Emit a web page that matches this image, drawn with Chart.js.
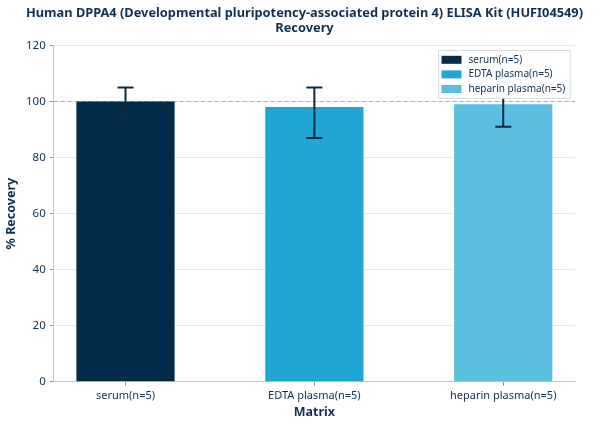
<!DOCTYPE html>
<html>
<head>
<meta charset="utf-8">
<script src="https://cdn.jsdelivr.net/npm/chart.js@4"></script>
<style>
  body { margin: 0; background: #fff; }
  #wrap { width: 608px; height: 425px; }
</style>
</head>
<body>
<div id="wrap"><canvas id="myChart"></canvas></div>
<script>
const matrices = ['serum(n=5)', 'EDTA plasma(n=5)', 'heparin plasma(n=5)'];
const recovery = [100, 98, 99];
const errUpper = [105, 105, 107];
const errLower = [95, 87, 91];
const yTicks = [0, 20, 40, 60, 80, 100, 120];
const barColors = ['#022b4a', '#1fa6d4', '#5bc0e0'];

const navy = '#12304f';
const ctx = document.getElementById('myChart');

const extras = {
  id: 'extras',
  beforeDatasetsDraw(chart) {
    const { ctx, chartArea, scales } = chart;
    const y = Math.round(scales.y.getPixelForValue(100)) + 0.5;
    ctx.save();
    ctx.strokeStyle = '#7dbfe0';
    ctx.lineWidth = 1;
    ctx.setLineDash([4, 3]);
    ctx.beginPath();
    ctx.moveTo(chartArea.left, y);
    ctx.lineTo(chartArea.right, y);
    ctx.stroke();
    ctx.restore();
  },
  afterDatasetsDraw(chart) {
    const { ctx, scales, chartArea } = chart;
    ctx.save();
    ctx.strokeStyle = '#0f2a47';
    ctx.lineWidth = 2;
    matrices.forEach((m, i) => {
      const x = scales.x.getPixelForValue(i);
      const yt = scales.y.getPixelForValue(errUpper[i]);
      const yb = scales.y.getPixelForValue(errLower[i]);
      ctx.beginPath();
      ctx.moveTo(x, yt); ctx.lineTo(x, yb);
      ctx.moveTo(x - 8, yt); ctx.lineTo(x + 8, yt);
      ctx.moveTo(x - 8, yb); ctx.lineTo(x + 8, yb);
      ctx.stroke();
    });

    // legend drawn by hand, top right inside the plot
    ctx.font = '10px "Noto Sans"';
    const tw = Math.max(...matrices.map(t => ctx.measureText(t).width));
    const w = 3 + 20 + 7 + tw + 5;
    const rowH = 14.6;
    const h = matrices.length * rowH + 4;
    const x0 = Math.round(chartArea.right - 5 - w) + 0.5;
    const y0 = Math.round(chartArea.top + 5) + 0.5;
    ctx.fillStyle = 'rgba(255,255,255,0.96)';
    ctx.strokeStyle = '#d5dbe2';
    ctx.lineWidth = 1;
    ctx.beginPath();
    ctx.rect(x0, y0, w, h);
    ctx.fill();
    ctx.stroke();
    ctx.textBaseline = 'middle';
    matrices.forEach((t, i) => {
      const cy = y0 + 2 + rowH * (i + 0.5);
      ctx.fillStyle = barColors[i];
      ctx.fillRect(x0 + 3, cy - 4, 20, 8);
      ctx.fillStyle = navy;
      ctx.fillText(t, x0 + 30, cy);
    });
    ctx.restore();
  }
};

new Chart(ctx, {
  type: 'bar',
  data: {
    datasets: [{
      label: 'Recovery',
      data: recovery.map((v, i) => ({ x: i, y: v })),
      backgroundColor: barColors,
      borderWidth: 0
    }]
  },
  plugins: [extras],
  options: {
    responsive: true,
    maintainAspectRatio: false,
    animation: false,
    categoryPercentage: 1,
    barPercentage: 0.52,
    layout: { padding: { left: 1, right: 0, top: 0, bottom: 3 } },
    plugins: {
      title: {
        display: true,
        text: ['Human DPPA4 (Developmental pluripotency-associated protein 4) ELISA Kit (HUFI04549)', 'Recovery'],
        color: navy,
        font: { family: 'Noto Sans', size: 12.8, weight: 'bold', lineHeight: 1.15 },
        padding: { top: 6, bottom: 10 }
      },
      legend: { display: false },
      tooltip: { enabled: false }
    },
    scales: {
      x: {
        type: 'linear',
        offset: false,
        min: -0.38,
        max: 2.38,
        afterBuildTicks: axis => { axis.ticks = matrices.map((_, i) => ({ value: i })); },
        grid: { offset: false, drawOnChartArea: false, tickLength: 4, tickColor: '#8a97a5' },
        border: { color: '#bcc6d0' },
        ticks: {
          color: navy, padding: 3, font: { family: 'Noto Sans', size: 11 },
          callback: v => matrices[v]
        },
        title: {
          display: true, text: 'Matrix', color: navy,
          font: { family: 'Noto Sans', size: 12.5, weight: 'bold' },
          padding: { top: 0, bottom: 2 }
        }
      },
      y: {
        min: 0,
        max: 120,
        afterBuildTicks: axis => { axis.ticks = yTicks.map(v => ({ value: v })); },
        grid: { color: '#e4e9ee', tickLength: 4, tickColor: '#8a97a5' },
        border: { color: '#bcc6d0' },
        ticks: { color: navy, padding: 4, font: { family: 'Noto Sans', size: 11.5 } },
        title: {
          display: true, text: '% Recovery', color: navy,
          font: { family: 'Noto Sans', size: 12.5, weight: 'bold' },
          padding: { top: 3, bottom: 3 }
        }
      },
      // empty right axis, only keeps room on the right of the plot
      yRight: {
        position: 'right',
        display: true,
        grid: { display: false },
        border: { display: false },
        ticks: { display: false },
        afterFit: axis => { axis.width = 33; }
      }
    }
  }
});
</script>
</body>
</html>
